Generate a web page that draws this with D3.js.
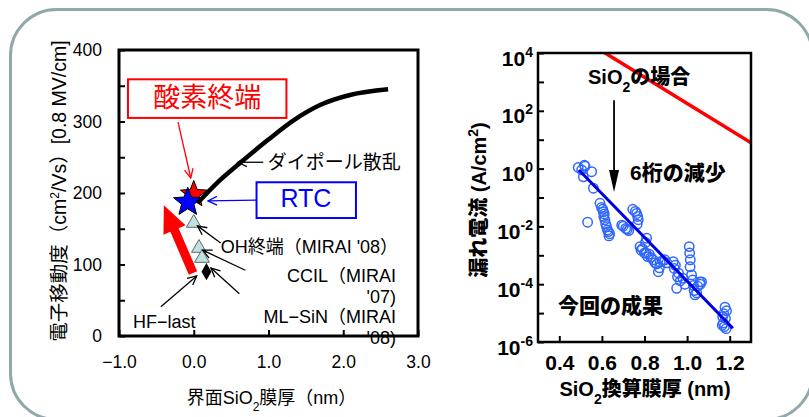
<!DOCTYPE html>
<html><head><meta charset="utf-8">
<script src="https://cdn.jsdelivr.net/npm/d3@7"></script>
<style>
html,body{margin:0;padding:0;background:#fff;}
svg{display:block;}
text{font-family:"Liberation Sans","Noto Sans CJK JP",sans-serif;}
</style></head><body>
<svg id="chart" width="809" height="417"></svg>
<script>
// ---------- Left panel: electron mobility vs interfacial SiO2 thickness ----------
const mobTicks = [0, 50, 100, 150, 200, 250, 300, 350, 400];
const thickTicks = [-1, 0, 1, 2, 3];

// dipole-scattering trend curve
const curveX = [0.05, 0.32, 0.63, 0.99, 1.34, 1.69, 2.09, 2.6];
const curveY = [186, 215, 243, 274, 302, 323, 337, 345];

// earlier reports (triangles) and ML-SiN (diamond)
const triX = [0.0, 0.07, 0.11];
const triY = [158, 123, 109];
const diaX = [0.17];
const diaY = [90];

// stars: oxygen termination (red) and RTC (blue)
const starX = [0.0, -0.08];
const starY = [198, 187];
const starFill = ["#ff0000", "#0000ff"];

// improvement arrow from HF-last
const boostFrom = [-0.01, 88];
const boostTo = [-0.4, 183];

// ---------- Right panel: leakage current vs EOT ----------
const eotTicks = [0.4, 0.6, 0.8, 1.0, 1.2];
const decades = [-6, -5, -4, -3, -2, -1, 0, 1, 2, 3, 4];
const eotX = [0.489,0.505,0.518,0.521,0.513,0.552,0.560,0.533,0.591,0.598,0.604,0.607,0.611,0.609,0.614,0.618,0.622,0.626,0.630,0.633,0.636,
  0.693,0.700,0.712,0.719,0.726,0.745,0.757,0.763,0.768,0.771,0.766,0.810,0.805,0.779,0.784,0.790,0.800,0.807,0.815,0.822,0.830,0.841,0.850,
  0.858,0.865,0.870,0.874,0.885,0.896,0.905,0.935,0.945,0.940,0.955,0.960,0.951,0.968,0.980,0.990,1.010,1.012,1.015,1.014,1.021,1.026,1.030,
  1.033,1.037,1.045,1.050,1.060,1.068,1.062,1.178,1.185,1.172,1.167,1.180,1.170,1.175,1.183,1.165];
const leakY = [1.1,0.9,1.3,1.2,0.52,0.78,0.21,0.014,0.063,0.045,0.039,0.032,0.027,0.022,0.017,0.012,0.0098,0.0075,0.0066,0.0047,0.0056,
  0.011,0.0102,0.0085,0.0079,0.0072,0.039,0.033,0.028,0.022,0.017,0.012,0.0039,0.0028,0.002,0.0015,0.0017,0.0012,0.0012,0.0009,0.0011,0.00085,0.0007,0.00055,
  0.0005,0.00027,0.00037,0.00058,0.00065,0.0007,0.00055,0.0006,0.00045,0.00035,0.00018,0.00024,0.000072,0.00013,0.00016,0.0001,0.002,0.0012,0.0007,0.0004,0.00021,0.00014,0.00009,
  0.00006,0.000043,0.00005,0.000085,0.00012,0.00012,0.0001,0.000016,0.000012,0.0000095,0.0000075,0.0000065,0.0000045,0.0000034,0.0000029,0.0000038];
// fitted trend of the new devices
const fitX = [0.492, 1.215];
const fitY = [0.9, 3e-6];
// conventional SiO2 reference
const sio2X = [0.6, 1.3];
const sio2Y = [1.17e4, 7.8];

const svg = d3.select("#chart");

// rounded frame around the slide
svg.append("rect").attr("x", 10.5).attr("y", 9.5).attr("width", 802).attr("height", 410)
  .attr("rx", 46).attr("ry", 46).attr("fill", "none").attr("stroke", "#8fa9ab").attr("stroke-width", 3);

// arrowhead helpers
function openHead(g, x1, y1, x2, y2, color, len, w) {
  const a = Math.atan2(y2 - y1, x2 - x1), s = 0.45;
  const p = [[x2 - len * Math.cos(a - s), y2 - len * Math.sin(a - s)], [x2, y2], [x2 - len * Math.cos(a + s), y2 - len * Math.sin(a + s)]];
  g.append("path").attr("d", d3.line()(p)).attr("fill", "none").attr("stroke", color).attr("stroke-width", w);
}
function thinArrow(g, x1, y1, x2, y2, color) {
  g.append("line").attr("x1", x1).attr("y1", y1).attr("x2", x2).attr("y2", y2)
    .attr("stroke", color).attr("stroke-width", 1.3);
  openHead(g, x1, y1, x2, y2, color, 10, 1.3);
}
function starPath(cx, cy, R, r) {
  const pts = [];
  for (let i = 0; i < 10; i++) {
    const rad = i % 2 ? r : R, a = -Math.PI / 2 + i * Math.PI / 5;
    pts.push([cx + rad * Math.cos(a), cy + rad * Math.sin(a)]);
  }
  return d3.line()(pts) + "Z";
}

// ================= LEFT PANEL =================
const L = svg.append("g");
const xL = d3.scaleLinear().domain([-1, 3]).range([119, 418]);
const yL = d3.scaleLinear().domain([0, 400]).range([336, 50]);

const axL = L.append("g").attr("transform", `translate(${xL.range()[0]},0)`)
  .call(d3.axisLeft(yL).tickValues(mobTicks).tickSize(-6).tickPadding(17)
    .tickFormat(d => d % 100 === 0 ? d : ""));
const axB = L.append("g").attr("transform", `translate(0,${yL.range()[0]})`)
  .call(d3.axisBottom(xL).tickValues(thickTicks).tickSize(-6).tickPadding(20).tickFormat(d3.format(".1f")));
[axL, axB].forEach(a => {
  a.select(".domain").remove();
  a.selectAll(".tick line").attr("stroke", "#000").attr("stroke-width", 2);
  a.selectAll("text").attr("font-size", 17.5).attr("fill", "#000").attr("font-family", null);
});
L.append("rect").attr("x", xL(-1)).attr("y", yL(400)).attr("width", xL(3) - xL(-1)).attr("height", yL(0) - yL(400))
  .attr("fill", "none").attr("stroke", "#000").attr("stroke-width", 3);

// axis titles
L.append("text").attr("transform", `translate(66,${(yL(0) + yL(400)) / 2 - 2}) rotate(-90)`)
  .attr("text-anchor", "middle").attr("font-size", 19.5)
  .html('電子移動度（cm<tspan baseline-shift="super" font-size="12">2</tspan>/Vs）[0.8 MV/cm]');
L.append("text").attr("x", (xL(-1) + xL(3)) / 2 + 3).attr("y", 404).attr("text-anchor", "middle").attr("font-size", 18)
  .html('界面SiO<tspan baseline-shift="sub" font-size="12">2</tspan>膜厚（nm）');

// trend curve
const curvePts = curveX.map((x, i) => [xL(x), yL(curveY[i])]);

// reference markers
triX.forEach((x, i) => {
  const cx = xL(x), cy = yL(triY[i]);
  L.append("path").attr("d", d3.symbol(d3.symbolTriangle, 95)()).attr("transform", `translate(${cx},${cy})`)
    .attr("fill", "#bfe1e3").attr("stroke", "#666").attr("stroke-width", 1);
});
diaX.forEach((x, i) => {
  L.append("path").attr("d", d3.symbol(d3.symbolDiamond, 85)()).attr("transform", `translate(${xL(x)},${yL(diaY[i])})`)
    .attr("fill", "#000");
});

// stars
starX.forEach((x, i) => {
  L.append("path").attr("d", starPath(xL(x), yL(starY[i]), i ? 15 : 14, i ? 6.5 : 6))
    .attr("fill", starFill[i]).attr("stroke", "#000").attr("stroke-width", 1);
});
L.append("path").attr("d", d3.line().curve(d3.curveMonotoneX)(curvePts))
  .attr("fill", "none").attr("stroke", "#000").attr("stroke-width", 4.5);

// big red improvement arrow
{
  const x1 = xL(boostFrom[0]), y1 = yL(boostFrom[1]), x2 = xL(boostTo[0]), y2 = yL(boostTo[1]);
  const a = Math.atan2(y2 - y1, x2 - x1), ux = Math.cos(a), uy = Math.sin(a), nx = -uy, ny = ux;
  const hl = 27, hw = 12, sw = 4.5;
  const bx = x2 - hl * ux, by = y2 - hl * uy;
  const pts = [[x1 + nx * sw, y1 + ny * sw], [bx + nx * sw, by + ny * sw], [bx + nx * hw, by + ny * hw], [x2, y2],
    [bx - nx * hw, by - ny * hw], [bx - nx * sw, by - ny * sw], [x1 - nx * sw, y1 - ny * sw]];
  L.append("path").attr("d", d3.line()(pts) + "Z").attr("fill", "#ff0000");
}

// labels and pointer arrows
L.append("rect").attr("x", xL(-0.88)).attr("y", yL(359)).attr("width", xL(1.24) - xL(-0.88)).attr("height", yL(305) - yL(359))
  .attr("fill", "#fff").attr("stroke", "#ff0000").attr("stroke-width", 2);
L.append("text").attr("x", xL(0.18)).attr("y", yL(320)).attr("text-anchor", "middle").attr("font-size", 27).attr("fill", "#ff0000").text("酸素終端");
thinArrow(L, xL(-0.21), yL(299), xL(-0.04), yL(221), "#ff0000");

L.append("rect").attr("x", xL(0.84)).attr("y", yL(215)).attr("width", xL(2.17) - xL(0.84)).attr("height", yL(165) - yL(215))
  .attr("fill", "#fff").attr("stroke", "#0000ff").attr("stroke-width", 2);
L.append("text").attr("x", xL(1.5)).attr("y", yL(180)).attr("text-anchor", "middle").attr("font-size", 25).attr("fill", "#0000ff").text("RTC");
thinArrow(L, xL(0.84), yL(190), xL(0.19), yL(189), "#0000ff");

L.append("text").attr("x", xL(0.99)).attr("y", yL(243) + 7).attr("font-size", 19).text("ダイポール散乱");
thinArrow(L, xL(0.93), yL(243), xL(0.59), yL(243), "#000");

L.append("text").attr("x", xL(0.36)).attr("y", yL(126) + 7).attr("font-size", 18).text("OH終端（MIRAI '08）");
thinArrow(L, xL(0.36), yL(130), xL(0.05), yL(154), "#000");

const rx = 396;
L.append("text").attr("x", rx).attr("y", 282).attr("text-anchor", "end").attr("font-size", 18).text("CCIL（MIRAI");
L.append("text").attr("x", rx).attr("y", 302.5).attr("text-anchor", "end").attr("font-size", 18).text("'07)");
thinArrow(L, xL(0.69), yL(92), xL(0.12), yL(120), "#000");
L.append("text").attr("x", rx).attr("y", 323).attr("text-anchor", "end").attr("font-size", 18).text("ML−SiN（MIRAI");
L.append("text").attr("x", rx).attr("y", 344).attr("text-anchor", "end").attr("font-size", 18).text("'08)");
thinArrow(L, xL(0.61), yL(59), xL(0.23), yL(95), "#000");

L.append("text").attr("x", 133).attr("y", 328).attr("font-size", 18).text("HF−last");
thinArrow(L, xL(-0.44), yL(41), xL(0.04), yL(84), "#000");

// ================= RIGHT PANEL =================
const R = svg.append("g").attr("font-weight", "bold");
const xR = d3.scaleLinear().domain([0.3, 1.3]).range([538, 751]);
const yR = d3.scaleLog().domain([1e-6, 1e4]).range([342, 53]);

const ayR = R.append("g").attr("transform", `translate(${xR.range()[0]},0)`)
  .call(d3.axisLeft(yR).tickValues(decades.map(e => Math.pow(10, e))).tickSize(-6).tickFormat(() => ""));
ayR.selectAll(".tick").each(function (d) {
  const e = Math.round(Math.log10(d));
  if (e % 2 !== 0) return;
  d3.select(this).append("text").attr("x", -5).attr("y", 12).attr("text-anchor", "end")
    .attr("font-size", 21).attr("fill", "#000")
    .html(`10<tspan dy="-9" font-size="14">${e < 0 ? "-" : ""}${Math.abs(e)}</tspan>`);
});
const axR = R.append("g").attr("transform", `translate(0,${yR.range()[0]})`)
  .call(d3.axisBottom(xR).tickValues(eotTicks).tickSize(-6).tickPadding(13).tickFormat(d3.format(".1f")));
[ayR, axR].forEach(a => {
  a.select(".domain").remove();
  a.selectAll(".tick line").attr("stroke", "#000").attr("stroke-width", 2);
  a.selectAll("text").attr("fill", "#000").attr("font-family", null);
});
axR.selectAll("text").attr("font-size", 21);

const clipR = svg.append("clipPath").attr("id", "clipR").append("rect")
  .attr("x", 538).attr("y", 53).attr("width", 213).attr("height", 289);

// SiO2 reference line
R.append("path").attr("clip-path", "url(#clipR)")
  .attr("d", d3.line()(sio2X.map((x, i) => [xR(x), yR(sio2Y[i])])))
  .attr("stroke", "#ff0000").attr("stroke-width", 3.5).attr("fill", "none");

// measured points
R.append("g").selectAll("circle").data(eotX).join("circle")
  .attr("cx", d => xR(d)).attr("cy", (d, i) => yR(leakY[i])).attr("r", 4.7)
  .attr("fill", "none").attr("stroke", "#2e66ff").attr("stroke-width", 1.5);

// fitted trend
R.append("path").attr("d", d3.line()(fitX.map((x, i) => [xR(x), yR(fitY[i])])))
  .attr("stroke", "#0000e0").attr("stroke-width", 3).attr("fill", "none");

R.append("rect").attr("x", 538).attr("y", 53).attr("width", 213).attr("height", 289)
  .attr("fill", "none").attr("stroke", "#000").attr("stroke-width", 2.5);

// annotations (heavy weight, as on the slide)
const heavy = 900;
R.append("text").attr("x", 588).attr("y", 84).attr("font-size", 20).attr("font-weight", heavy)
  .html('SiO<tspan baseline-shift="sub" font-size="14">2</tspan>の場合');
{
  const ax = xR(0.657), ay1 = yR(234), ay2 = yR(0.155);
  R.append("line").attr("x1", ax).attr("x2", ax).attr("y1", ay1).attr("y2", ay2 - 18).attr("stroke", "#000").attr("stroke-width", 1.8);
  R.append("path").attr("d", d3.line()([[ax - 5, ay2 - 22], [ax + 5, ay2 - 22], [ax, ay2]]) + "Z").attr("fill", "#000");
}
R.append("text").attr("x", 630).attr("y", 180).attr("font-size", 21).attr("font-weight", heavy).text("6桁の減少");
R.append("text").attr("x", 558).attr("y", 313).attr("font-size", 21).attr("font-weight", heavy).text("今回の成果");

R.append("text").attr("transform", `translate(486,200) rotate(-90)`).attr("text-anchor", "middle").attr("font-size", 20)
  .attr("font-weight", heavy)
  .html('漏れ電流 (A/cm<tspan dy="-8" font-size="14">2</tspan><tspan dy="8">)</tspan>');
R.append("text").attr("x", 645).attr("y", 396).attr("text-anchor", "middle").attr("font-size", 20).attr("font-weight", heavy)
  .html('SiO<tspan baseline-shift="sub" font-size="14">2</tspan>換算膜厚 (nm)');
</script>
</body></html>
